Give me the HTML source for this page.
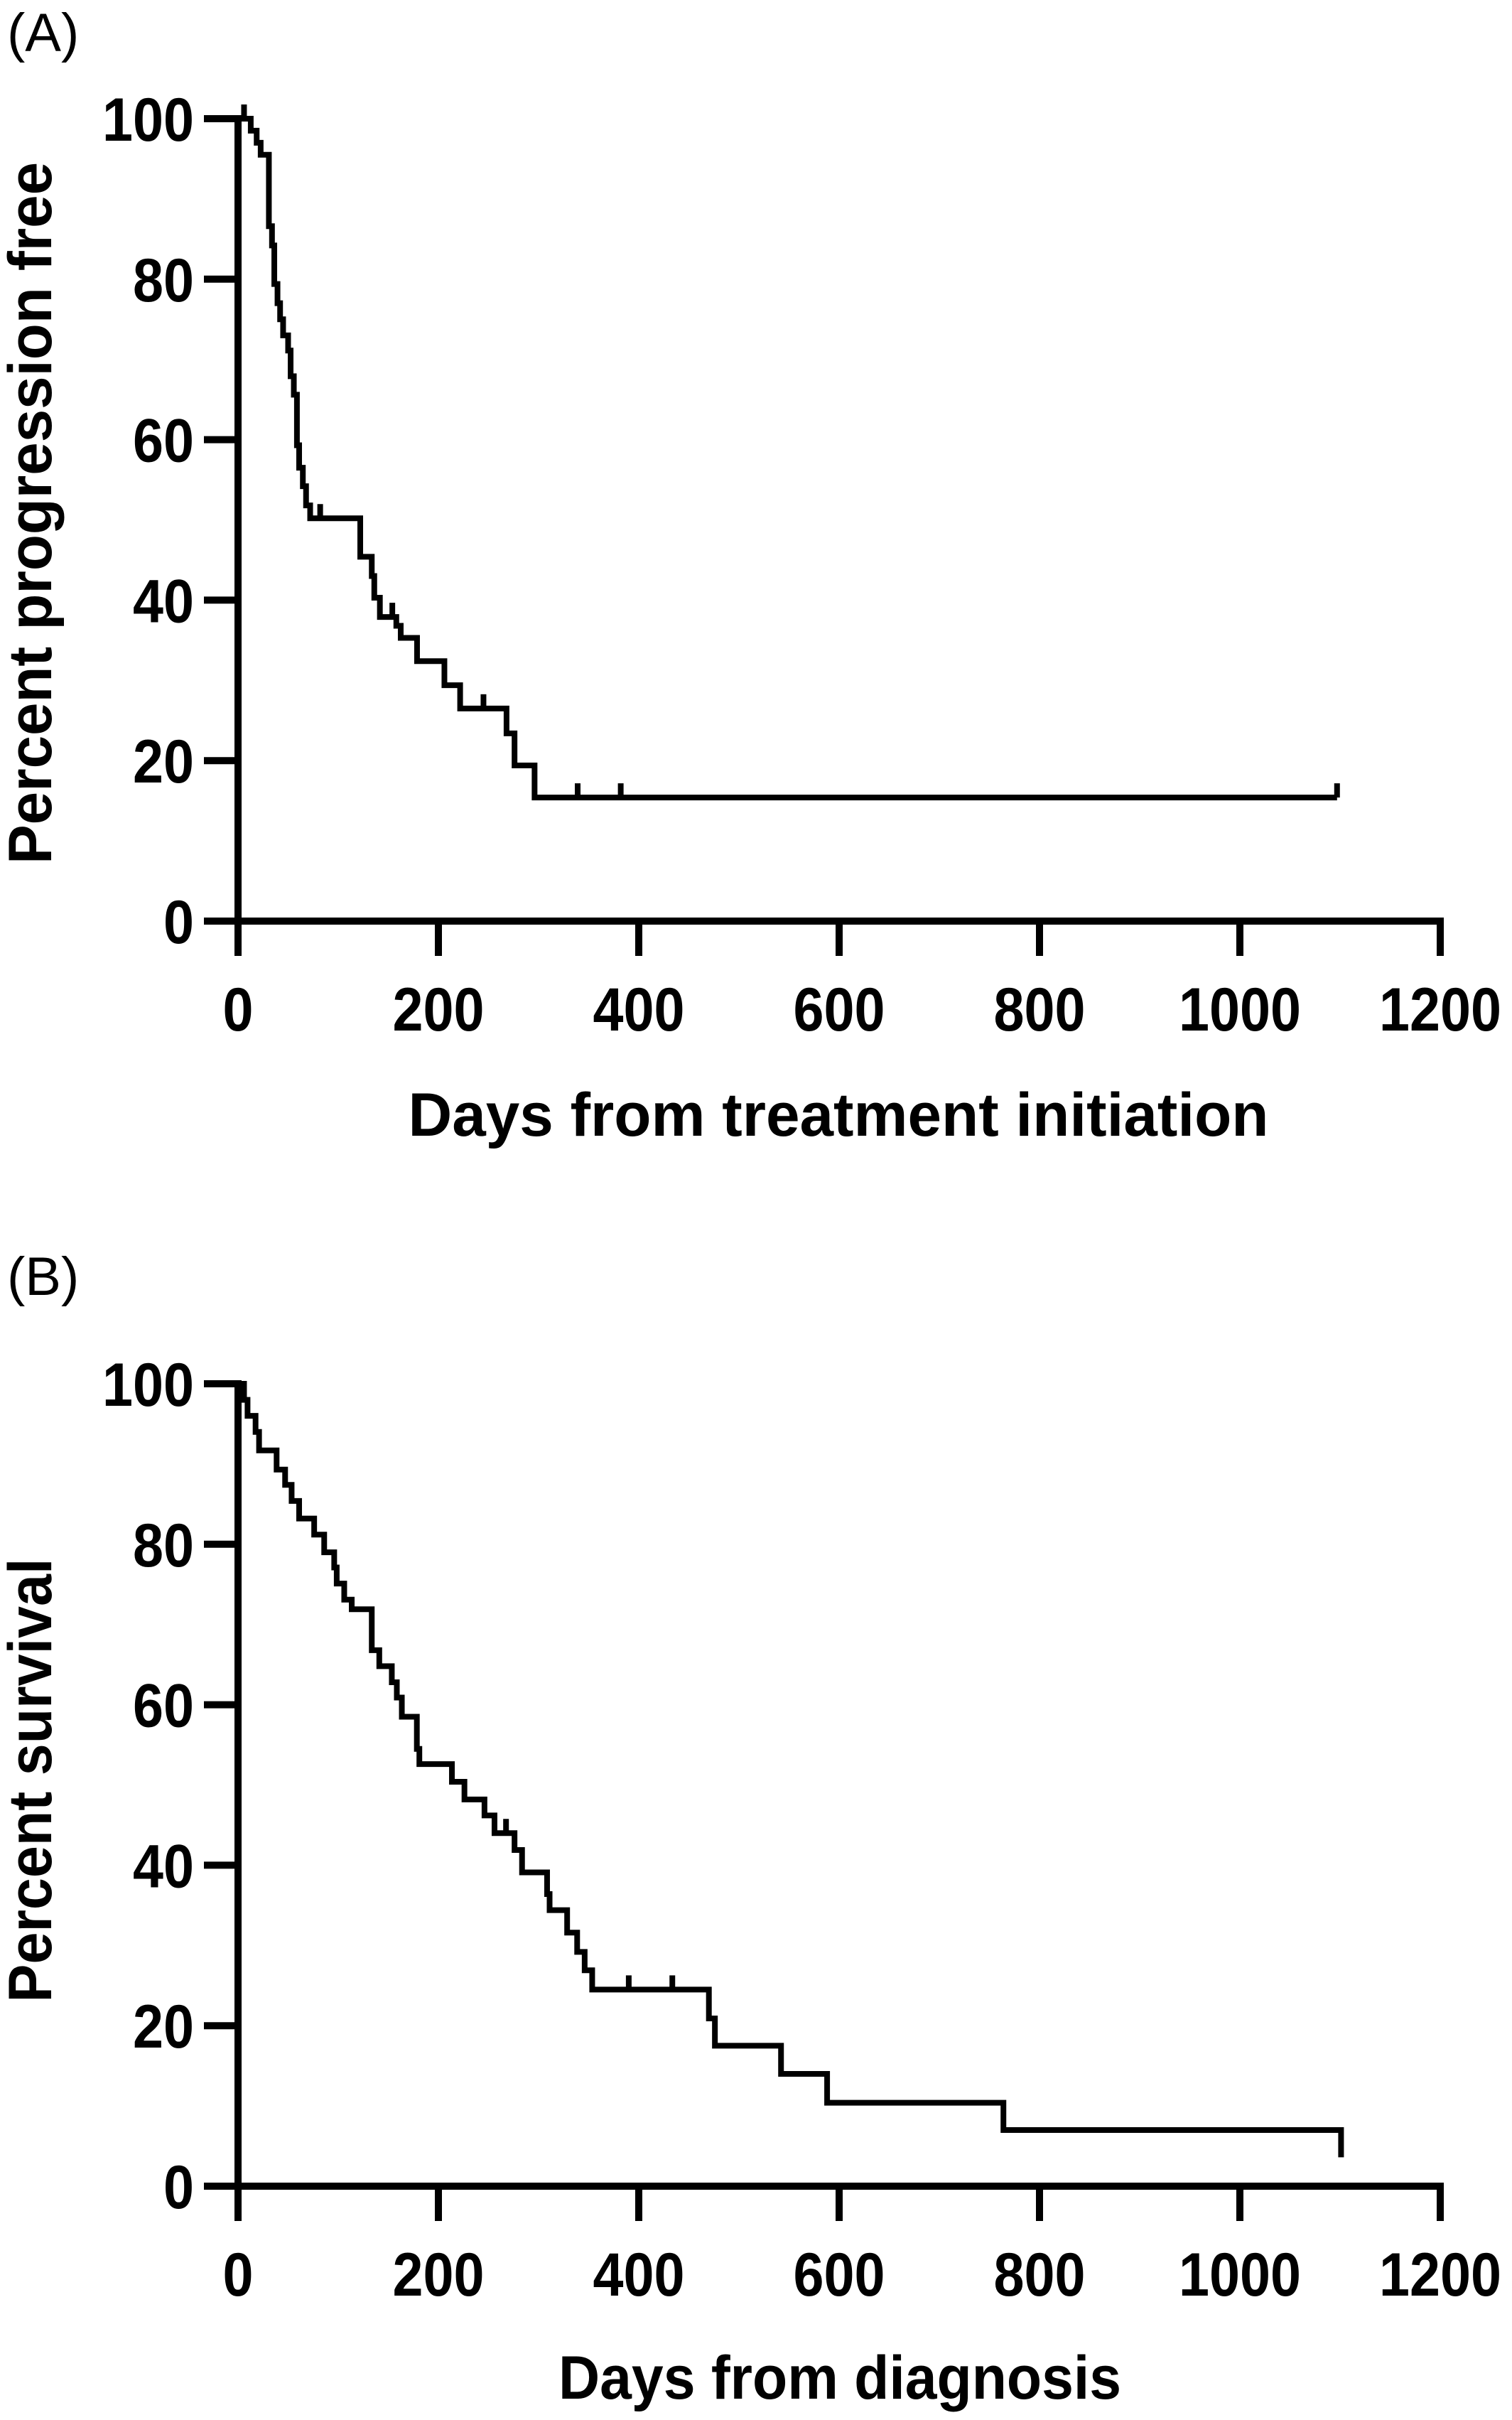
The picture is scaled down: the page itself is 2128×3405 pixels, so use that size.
<!DOCTYPE html>
<html><head><meta charset="utf-8"><style>
html,body{margin:0;padding:0;background:#fff;}
svg{display:block;}
text{font-family:"Liberation Sans",Arial,sans-serif;fill:#000;}
</style></head><body>
<svg id="fig" width="2128" height="3405" viewBox="0 0 2128 3405" xmlns="http://www.w3.org/2000/svg">
<rect width="2128" height="3405" fill="#fff"/>
<g id="panelA"></g>
<g id="panelB"></g>
</svg>
<script>
// Panel A data (days, percent progression free)
const timesA = [0, 12.7, 18.6, 22.6, 30.8, 33.9, 36.2, 39.4, 42, 45, 50, 52.5, 55.7, 58.8, 61, 64.7, 67.9, 72, 122, 133.5, 136, 141.6, 158, 162.4, 178.7, 206, 221.7, 268, 276, 296];
const survA  = [100, 98.5, 97, 95.5, 86.6, 84.2, 79.4, 77, 75, 73, 71.1, 67.9, 65.6, 59.3, 56.5, 54.2, 51.8, 50.2, 45.4, 43, 40.3, 37.9, 36.8, 35.3, 32.4, 29.4, 26.5, 23.4, 19.4, 15.4];
const censorA = [6, 82, 154, 245, 339, 382, 1097];
const endA = 1097;
// Panel B data (days, percent survival)
const timesB = [0, 6, 9.5, 17.5, 21, 38.5, 47, 53.5, 61, 76, 86, 96, 98.5, 106, 113.5, 133.5, 141, 153.5, 158.5, 163.5, 178.5, 181, 213.5, 226, 246, 256, 276, 283.5, 308.5, 311, 328.5, 338.5, 346, 353.5, 470, 476, 542, 588, 764, 1101];
const survB  = [100, 98, 96, 94, 91.7, 89.3, 87.4, 85.4, 83.2, 81.2, 79, 77.1, 75.1, 73.1, 71.9, 66.8, 64.8, 62.8, 60.9, 58.5, 54.5, 52.6, 50.4, 48.2, 46.2, 44, 41.9, 39.1, 36.4, 34.4, 31.6, 29.2, 26.9, 24.5, 20.9, 17.5, 14, 10.4, 7, 3.6];
const censorB = [267.5, 390, 433.5];
const endB = 1101;
// Axis ticks
const xTicks = [0, 200, 400, 600, 800, 1000, 1200];
const yTicks = [0, 20, 40, 60, 80, 100];

const NS = "http://www.w3.org/2000/svg";
function mk(parent, tag, attrs){ const e=document.createElementNS(NS,tag); for(const k in attrs) e.setAttribute(k,attrs[k]); parent.appendChild(e); return e; }

function drawPanel(g, cfg){
  const x0=335, x1=2027, yTop=cfg.yTop, yBot=cfg.yBot;
  const X = d => x0 + (d/1200)*(x1-x0);
  const Y = p => yBot - (p/100)*(yBot-yTop);
  // panel label
  const pl = mk(g,'text',{x:10,y:cfg.labelY,'font-size':76});
  pl.textContent = cfg.label;
  
  
  // axes
  const ya = mk(g,'line',{x1:x0,y1:yTop-5,x2:x0,y2:yBot+5,stroke:'#000','stroke-width':10});
  
  
  const xa = mk(g,'line',{x1:x0-48,y1:yBot,x2:x1+5,y2:yBot,stroke:'#000','stroke-width':10});
  
  
  yTicks.forEach(v=>{
    const t = mk(g,'line',{x1:x0-48,y1:Y(v),x2:x0,y2:Y(v),stroke:'#000','stroke-width':10});
    
    
    const s = String(v);
    const l = mk(g,'text',{x:273,y:Y(v)+31,'font-size':86,'font-weight':'bold','text-anchor':'end',textLength:s.length*43,lengthAdjust:'spacingAndGlyphs'});
    l.textContent = s;
    
    
  });
  xTicks.forEach(v=>{
    const t = mk(g,'line',{x1:X(v),y1:yBot,x2:X(v),y2:yBot+49,stroke:'#000','stroke-width':10});
    
    
    const s = String(v);
    const l = mk(g,'text',{x:X(v),y:yBot+cfg.xLabDy,'font-size':86,'font-weight':'bold','text-anchor':'middle',textLength:s.length*43,lengthAdjust:'spacingAndGlyphs'});
    l.textContent = s;
    
    
  });
  // titles
  const xt = mk(g,'text',{x:cfg.xTitleX,y:cfg.xTitleY,'font-size':86,'font-weight':'bold','text-anchor':'middle',textLength:cfg.xTitleLen,lengthAdjust:'spacingAndGlyphs'});
  xt.textContent = cfg.xTitle;
  
  
  const yt = mk(g,'text',{x:0,y:0,'font-size':86,'font-weight':'bold','text-anchor':'middle',textLength:cfg.yTitleLen,lengthAdjust:'spacingAndGlyphs',transform:`translate(72,${cfg.yTitleCY}) rotate(-90)`});
  yt.textContent = cfg.yTitle;
  
  
  // KM step curve
  let d = `M${X(cfg.times[0])},${Y(cfg.surv[0])}`;
  for(let i=1;i<cfg.times.length;i++){ d += ` H${X(cfg.times[i])} V${Y(cfg.surv[i])}`; }
  d += ` H${X(cfg.end)}`;
  const p = mk(g,'path',{d:d,fill:'none',stroke:'#000','stroke-width':8,'stroke-linejoin':'miter'});
  
  
  // censor marks
  cfg.censor.forEach(c=>{
    let s = cfg.surv[0];
    for(let i=0;i<cfg.times.length;i++){ if(cfg.times[i]<=c) s=cfg.surv[i]; }
    const m = mk(g,'line',{x1:X(c),y1:Y(s),x2:X(c),y2:Y(s)-20,stroke:'#000','stroke-width':8});
    
    
  });
}

drawPanel(document.getElementById('panelA'),{
  label:'(A)', labelY:72, yTop:167, yBot:1296, xLabDy:154,
  xTitle:'Days from treatment initiation', xTitleX:1180, xTitleY:1598, xTitleLen:1211,
  yTitle:'Percent progression free', yTitleCY:722, yTitleLen:988,
  times:timesA, surv:survA, censor:censorA, end:endA
});
drawPanel(document.getElementById('panelB'),{
  label:'(B)', labelY:1822, yTop:1947, yBot:3076, xLabDy:154,
  xTitle:'Days from diagnosis', xTitleX:1182, xTitleY:3375, xTitleLen:792,
  yTitle:'Percent survival', yTitleCY:2505, yTitleLen:625,
  times:timesB, surv:survB, censor:censorB, end:endB
});
</script>
</body></html>
